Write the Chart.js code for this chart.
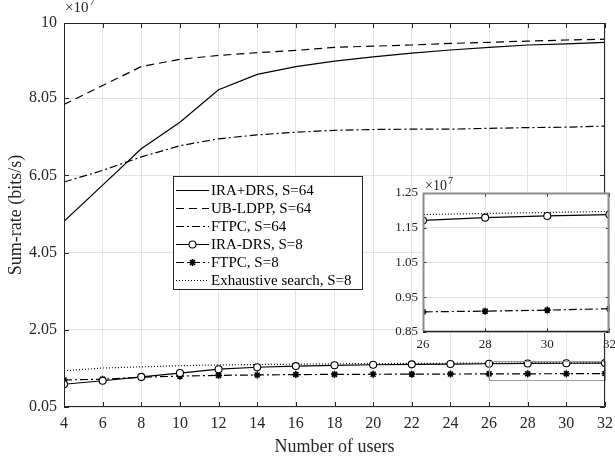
<!DOCTYPE html>
<html>
<head>
<meta charset="utf-8">
<script src="https://cdn.jsdelivr.net/npm/chart.js@4.4.1/dist/chart.umd.min.js"></script>
<style>
  html, body { margin: 0; padding: 0; background: #fff; }
  #wrap { position: relative; width: 615px; height: 461px; overflow: hidden; }
  #main { position: absolute; left: 0; top: 0; }
  #inset { position: absolute; left: 380px; top: 170px; }
</style>
</head>
<body>
<div id="wrap">
  <canvas id="main" width="615" height="461"></canvas>
  <canvas id="inset" width="235" height="191"></canvas>
</div>
<script>
// values are in units of 10^7 bits/s
const users = [4, 6, 8, 10, 12, 14, 16, 18, 20, 22, 24, 26, 28, 30, 32];
const iraDrs64 = [4.86, 5.80, 6.74, 7.43, 8.27, 8.67, 8.87, 9.01, 9.12, 9.22, 9.30, 9.37, 9.43, 9.46, 9.50];
const ubLdpp64 = [7.89, 8.38, 8.87, 9.06, 9.16, 9.23, 9.29, 9.37, 9.40, 9.43, 9.47, 9.50, 9.53, 9.56, 9.58];
const ftpc64 = [5.88, 6.18, 6.53, 6.82, 7.00, 7.10, 7.17, 7.22, 7.24, 7.25, 7.25, 7.27, 7.29, 7.30, 7.33];
const iraDrs8 = [0.64, 0.73, 0.83, 0.93, 1.03, 1.08, 1.11, 1.13, 1.145, 1.155, 1.163, 1.171, 1.179, 1.184, 1.188];
const ftpc8 = [0.75, 0.77, 0.82, 0.85, 0.87, 0.88, 0.89, 0.895, 0.898, 0.901, 0.904, 0.908, 0.910, 0.913, 0.917];
const exhaustive8 = [0.99, 1.06, 1.09, 1.12, 1.14, 1.15, 1.16, 1.17, 1.175, 1.18, 1.184, 1.188, 1.191, 1.194, 1.197];

const yTicks = [0.05, 2.05, 4.05, 6.05, 8.05, 10];
const yTickLabels = ['0.05', '2.05', '4.05', '6.05', '8.05', '10'];
const insetXTicks = [26, 28, 30, 32];
const insetYTicks = [0.85, 0.95, 1.05, 1.15, 1.25];
const insetYTickLabels = ['0.85', '0.95', '1.05', '1.15', '1.25'];
const zoomX = [26, 32];
const zoomY = [0.75, 1.25];

const FONT = '"Liberation Serif", "Times New Roman", serif';
const AXIS = '#262626';
const GRID = '#e3e3e3';

function pts(ys) {
  return users.map((u, i) => ({ x: u, y: ys[i] }));
}

function makeDatasets() {
  return [
    { label: 'IRA+DRS, S=64', data: pts(iraDrs64), borderDash: [], pointRadius: 0 },
    { label: 'UB-LDPP, S=64', data: pts(ubLdpp64), borderDash: [8, 5], pointRadius: 0 },
    { label: 'FTPC, S=64', data: pts(ftpc64), borderDash: [8, 3, 2, 3], pointRadius: 0 },
    { label: 'IRA-DRS, S=8', data: pts(iraDrs8), borderDash: [], pointStyle: 'circle', pointRadius: 3.5,
      pointBackgroundColor: '#fff', pointBorderWidth: 1.1 },
    { label: 'FTPC, S=8', data: pts(ftpc8), borderDash: [8, 3, 2, 3], pointStyle: 'star', pointRadius: 3.5,
      pointBorderWidth: 1.6 },
    { label: 'Exhaustive search, S=8', data: pts(exhaustive8), borderDash: [1, 2], pointRadius: 0 }
  ].map(d => Object.assign({
    borderColor: '#000', borderWidth: 1.2, tension: 0, pointBorderColor: '#000',
    pointBackgroundColor: '#000', fill: false
  }, d));
}

// box, inward ticks, zoom rectangle, exponent label
const framePlugin = {
  id: 'frame',
  beforeDraw(chart, args, o) {
    if (!o.whiteArea) return;
    const a = chart.chartArea;
    chart.ctx.save();
    chart.ctx.fillStyle = '#fff';
    chart.ctx.fillRect(a.left, a.top, a.width, a.height);
    chart.ctx.restore();
  },
  afterDatasetsDraw(chart, args, o) {
    const { ctx, chartArea: a, scales: { x, y } } = chart;
    ctx.save();
    if (o.zoomBox) {
      ctx.strokeStyle = '#9a9a9a';
      ctx.lineWidth = 1;
      const x0 = x.getPixelForValue(zoomX[0]), x1 = x.getPixelForValue(zoomX[1]);
      const y0 = y.getPixelForValue(zoomY[1]), y1 = y.getPixelForValue(zoomY[0]);
      ctx.strokeRect(Math.round(x0) + 0.5, Math.round(y0) + 0.5, Math.round(x1 - x0), Math.round(y1 - y0));
    }
    const L = o.tickLen;
    ctx.strokeStyle = o.color;
    ctx.lineWidth = 1;
    ctx.beginPath();
    x.ticks.forEach(t => {
      const p = Math.round(x.getPixelForValue(t.value)) + 0.5;
      ctx.moveTo(p, a.bottom); ctx.lineTo(p, a.bottom - L);
      ctx.moveTo(p, a.top); ctx.lineTo(p, a.top + L);
    });
    y.ticks.forEach(t => {
      const p = Math.round(y.getPixelForValue(t.value)) + 0.5;
      ctx.moveTo(a.left, p); ctx.lineTo(a.left + L, p);
      ctx.moveTo(a.right, p); ctx.lineTo(a.right - L, p);
    });
    ctx.stroke();
    // box sides
    const l = Math.round(a.left) + 0.5, r = Math.round(a.right) - 0.5;
    const t = Math.round(a.top) + 0.5, b = Math.round(a.bottom) - 0.5;
    ctx.lineWidth = o.sideWidth;
    ctx.strokeStyle = o.sideColor;
    ctx.beginPath();
    ctx.moveTo(l, b); ctx.lineTo(l, t); ctx.lineTo(r, t); ctx.lineTo(r, b);
    ctx.stroke();
    ctx.lineWidth = o.bottomWidth;
    ctx.strokeStyle = o.color;
    ctx.beginPath();
    ctx.moveTo(l, b); ctx.lineTo(r, b);
    ctx.stroke();
    // exponent
    ctx.fillStyle = AXIS;
    ctx.textBaseline = 'alphabetic';
    ctx.textAlign = 'left';
    ctx.font = o.expSize + 'px ' + FONT;
    ctx.fillText('\u00d710', o.expX, o.expY);
    const w = ctx.measureText('\u00d710').width;
    ctx.font = Math.round(o.expSize * 0.72) + 'px ' + FONT;
    ctx.fillText('7', o.expX + w + 1, o.expY - o.expSize * 0.45);
    ctx.restore();
  }
};

// MATLAB style legend box
const boxLegend = {
  id: 'boxLegend',
  afterDraw(chart, args, o) {
    if (!o.show) return;
    const ctx = chart.ctx;
    ctx.save();
    ctx.fillStyle = '#fff';
    ctx.fillRect(o.left, o.top, o.width, o.height);
    ctx.strokeStyle = AXIS;
    ctx.lineWidth = 1;
    ctx.strokeRect(o.left + 0.5, o.top + 0.5, o.width, o.height);
    chart.data.datasets.forEach((ds, i) => {
      const yy = Math.round(o.top + o.firstRow + i * o.rowGap) + 0.5;
      ctx.strokeStyle = '#000';
      ctx.lineWidth = ds.borderWidth;
      ctx.setLineDash(ds.borderDash);
      ctx.beginPath();
      ctx.moveTo(o.left + 3, yy);
      ctx.lineTo(o.left + 36, yy);
      ctx.stroke();
      ctx.setLineDash([]);
      if (ds.pointRadius > 0) {
        ctx.fillStyle = ds.pointBackgroundColor;
        ctx.strokeStyle = '#000';
        ctx.lineWidth = ds.pointBorderWidth;
        Chart.helpers.drawPoint(ctx, { pointStyle: ds.pointStyle, radius: ds.pointRadius,
          rotation: 0, borderWidth: ds.pointBorderWidth }, o.left + 19.5, yy);
      }
      ctx.fillStyle = '#000';
      ctx.font = '15px ' + FONT;
      ctx.textBaseline = 'middle';
      ctx.textAlign = 'left';
      ctx.fillText(ds.label, o.left + 38, yy + 1);
    });
    ctx.restore();
  }
};

Chart.register(framePlugin, boxLegend);

new Chart(document.getElementById('main'), {
  type: 'line',
  data: { datasets: makeDatasets() },
  options: {
    responsive: false,
    animation: false,
    layout: { padding: { left: 0, right: 10, top: 23, bottom: 0 } },
    plugins: {
      legend: { display: false },
      tooltip: { enabled: false },
      frame: { tickLen: 5, color: AXIS, sideColor: AXIS, sideWidth: 1, bottomWidth: 1,
        zoomBox: true, expX: 65, expY: 12, expSize: 15 },
      boxLegend: { show: true, left: 173, top: 176, width: 189, height: 113,
        firstRow: 14, rowGap: 17.9 }
    },
    scales: {
      x: {
        type: 'linear', min: 4, max: 32,
        ticks: { stepSize: 2, autoSkip: false, maxRotation: 0, color: AXIS,
          font: { family: FONT, size: 16 }, padding: 7 },
        grid: { color: GRID, drawTicks: false },
        border: { display: false },
        title: { display: true, text: 'Number of users', color: AXIS,
          font: { family: FONT, size: 18 }, padding: { top: 0, bottom: 3 } },
        afterFit(s) { s.height = 54; s.paddingLeft = 0; s.paddingRight = 0; }
      },
      y: {
        min: 0.05, max: 10,
        afterBuildTicks(s) { s.ticks = yTicks.map(v => ({ value: v })); },
        ticks: { callback: (v, i) => yTickLabels[i], color: AXIS,
          font: { family: FONT, size: 16 }, padding: 7 },
        grid: { color: GRID, drawTicks: false },
        border: { display: false },
        title: { display: true, text: 'Sum-rate (bits/s)', color: AXIS,
          font: { family: FONT, size: 18 }, padding: { top: 5, bottom: 0 } },
        afterFit(s) { s.width = 64; s.paddingTop = 0; s.paddingBottom = 0; }
      }
    }
  }
});

const insetSets = makeDatasets().filter(d => d.label.endsWith('S=8'));

new Chart(document.getElementById('inset'), {
  type: 'line',
  data: { datasets: insetSets },
  options: {
    responsive: false,
    animation: false,
    layout: { padding: { left: 0, right: 3, top: 23, bottom: 0 } },
    plugins: {
      legend: { display: false },
      tooltip: { enabled: false },
      frame: { tickLen: 3.5, color: AXIS, sideColor: '#8c8c8c', sideWidth: 2, bottomWidth: 1.5,
        whiteArea: true, zoomBox: false, expX: 45, expY: 20, expSize: 14 },
      boxLegend: { show: false }
    },
    scales: {
      x: {
        type: 'linear', min: 26, max: 32,
        afterBuildTicks(s) { s.ticks = insetXTicks.map(v => ({ value: v })); },
        ticks: { autoSkip: false, maxRotation: 0, color: AXIS,
          font: { family: FONT, size: 13 }, padding: 5 },
        grid: { color: GRID, drawTicks: false },
        border: { display: false },
        afterFit(s) { s.height = 29; s.paddingLeft = 0; s.paddingRight = 0; }
      },
      y: {
        min: 0.85, max: 1.25,
        afterBuildTicks(s) { s.ticks = insetYTicks.map(v => ({ value: v })); },
        ticks: { callback: (v, i) => insetYTickLabels[i], color: AXIS,
          font: { family: FONT, size: 13 }, padding: 5 },
        grid: { color: GRID, drawTicks: false },
        border: { display: false },
        afterFit(s) { s.width = 43; s.paddingTop = 0; s.paddingBottom = 0; }
      }
    }
  }
});
</script>
</body>
</html>
